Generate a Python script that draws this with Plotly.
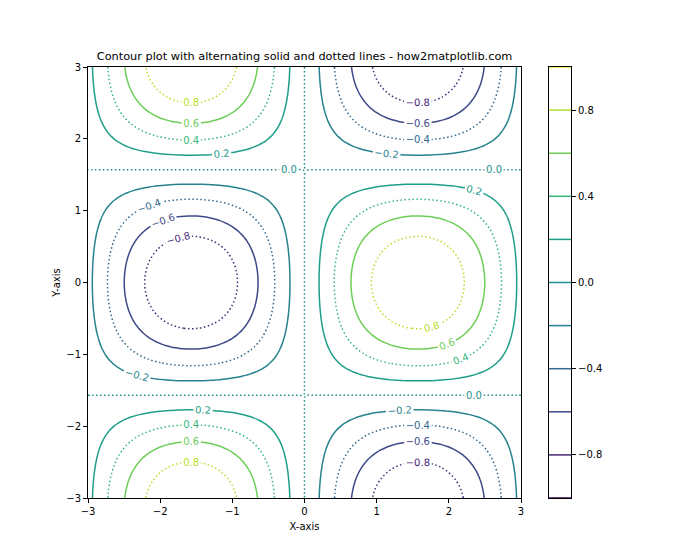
import numpy as np
import plotly.graph_objects as go

# Grid of the sampled field shown in the reference
x = np.linspace(-3, 3, 100)
y = np.linspace(-3, 3, 100)
z = np.sin(x)[None, :] * np.cos(y)[:, None]

levels = [-1.0, -0.8, -0.6, -0.4, -0.2, 0.0, 0.2, 0.4, 0.6, 0.8, 1.0]
colors = ["#440154", "#482878", "#3e4989", "#31688e", "#26828e", "#21918c",
          "#1f9e89", "#35b779", "#6ece58", "#b5de2b", "#fde725"]
styles = ["solid", "dotted"] * 6

xticks = [-3, -2, -1, 0, 1, 2, 3]
yticks = [-3, -2, -1, 0, 1, 2, 3]
cbar_ticks = [-0.8, -0.4, 0.0, 0.4, 0.8]

fig = go.Figure()
for i, (lev, col) in enumerate(zip(levels, colors)):
    dash = "solid" if styles[i] == "solid" else "1.5px,2.5px"
    fig.add_trace(go.Contour(
        x=x, y=y, z=z,
        contours=dict(start=lev, end=lev, size=0.2, coloring="none",
                      showlabels=True,
                      labelfont=dict(size=10, color=col, family="DejaVu Sans"),
                      labelformat=".1f"),
        line=dict(color=col, width=1.5, dash=dash),
        showscale=False, hoverinfo="skip",
        xaxis="x", yaxis="y",
    ))

# colorbar drawn as a separate small axis with level lines
for lev, col in zip(levels, colors):
    fig.add_trace(go.Scatter(
        x=[0, 1], y=[lev, lev], mode="lines",
        line=dict(color=col, width=1.5), showlegend=False,
        hoverinfo="skip", xaxis="x2", yaxis="y2", cliponaxis=False,
    ))

font = dict(family="DejaVu Sans", size=10, color="black")
fig.update_layout(
    width=700, height=560,
    margin=dict(l=88, r=129, t=67, b=62),
    paper_bgcolor="white", plot_bgcolor="white",
    showlegend=False,
    font=font,
    title=dict(text="Contour plot with alternating solid and dotted lines - how2matplotlib.com",
               x=0.4484, xref="paper", xanchor="center",
               y=1 - 56 / 560, yref="container", yanchor="middle",
               font=dict(family="DejaVu Sans", size=11.3, color="black")),
    xaxis=dict(domain=[0, 0.8965], range=[-3, 3], tickvals=xticks,
               ticktext=[str(t) if t >= 0 else "\u2212" + str(-t) for t in xticks],
               showgrid=False, zeroline=False, showline=True, mirror=True,
               linecolor="black", linewidth=1, ticks="outside", ticklen=4,
               tickcolor="black",
               title=dict(text="X-axis", standoff=6, font=font)),
    yaxis=dict(domain=[0, 1], range=[-3, 3], tickvals=yticks,
               ticktext=[str(t) if t >= 0 else "\u2212" + str(-t) for t in yticks],
               showgrid=False, zeroline=False, showline=True, mirror=True,
               linecolor="black", linewidth=1, ticks="outside", ticklen=4,
               tickcolor="black",
               title=dict(text="Y-axis", standoff=3, font=font)),
    xaxis2=dict(domain=[0.9545, 1], range=[0, 1], showticklabels=False,
                ticks="", showgrid=False, zeroline=False, showline=True,
                mirror=True, linecolor="black", linewidth=1, anchor="y2"),
    yaxis2=dict(domain=[0, 1], range=[-1, 1], side="right", anchor="x2",
                tickvals=cbar_ticks,
                ticktext=["\u22120.8", "\u22120.4", "0.0", "0.4", "0.8"],
                showgrid=False, zeroline=False, showline=True, mirror=True,
                linecolor="black", linewidth=1, ticks="outside", ticklen=4,
                tickcolor="black"),
)

fig.write_html("out.html")
